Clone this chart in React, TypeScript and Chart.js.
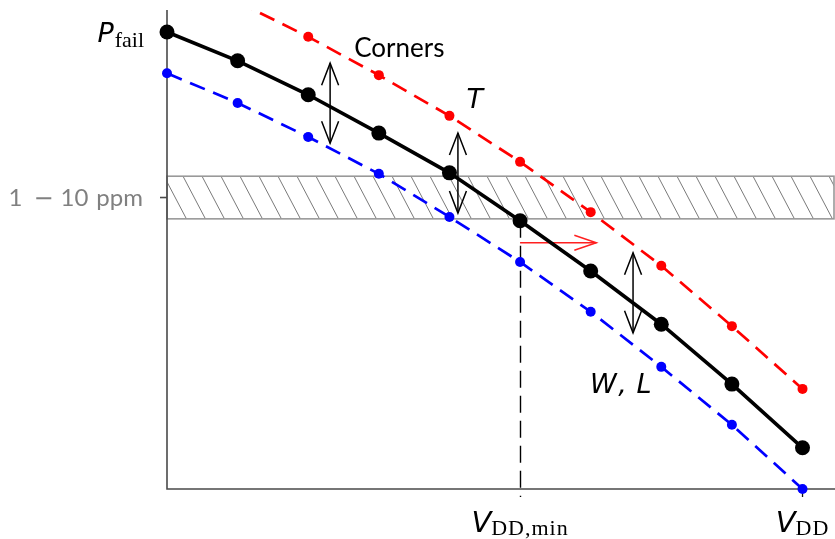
import React, { useEffect, useRef } from "react";
import { Chart, registerables } from "chart.js";

Chart.register(...registerables);

// ---- data ----
const xIndex = [0, 1, 2, 3, 4, 5, 6, 7, 8, 9];
const nominal = [9.54, 8.94, 8.23, 7.43, 6.6, 5.6, 4.55, 3.44, 2.19, 0.86];
const cornerHigh = [null, 10.17, 9.44, 8.64, 7.79, 6.83, 5.78, 4.66, 3.4, 2.09];
const cornerLow = [8.68, 8.06, 7.35, 6.58, 5.68, 4.74, 3.7, 2.55, 1.34, 0.0];
const cornerHighMarker = [0, 0, 5, 5, 5, 5, 5, 5, 5, 5];

const bandLow = 5.64;
const bandHigh = 6.53;
const yTickValue = 6.085;
const yTickParts = ["1", "−", "10", "ppm"];
const vddMinIndex = 5;
const vddIndex = 9;
const xMax = 9.46;
const yMax = 10;

// annotation arrows (data units)
const spreadArrows = [
  { x: 2.31, y1: 8.89, y2: 7.22 },
  { x: 4.12, y1: 7.43, y2: 5.76 },
  { x: 6.6, y1: 4.93, y2: 3.26 },
];
const shiftArrow = { x1: 5, x2: 6.08, y: 5.14 };
const notes = [
  { text: "Corners", x: 3.29, y: 9.02, font: '26px Lato', align: "center" },
  { text: "T", x: 4.24, y: 7.95, font: 'italic 27px "DejaVu Sans"', align: "left" },
  { text: "W", x: 5.99, y: 2.0, font: 'italic 27px "DejaVu Sans"', align: "left" },
  { text: ",", x: 6.39, y: 2.0, font: 'italic 27px "DejaVu Sans"', align: "left" },
  { text: "L", x: 6.65, y: 2.0, font: 'italic 27px "DejaVu Sans"', align: "left" },
];

function mkPts(vals: (number | null)[]) {
  return xIndex.map((x, i) => ({ x, y: vals[i] }));
}

function openHead(ctx: CanvasRenderingContext2D, tx: number, ty: number, ux: number, uy: number, len: number, half: number) {
  const bx = tx - ux * len;
  const by = ty - uy * len;
  const px = -uy, py = ux;
  ctx.beginPath();
  ctx.moveTo(bx + px * half, by + py * half);
  ctx.lineTo(tx, ty);
  ctx.lineTo(bx - px * half, by - py * half);
  ctx.stroke();
}

const overlay = {
  id: "overlay",
  beforeDatasetsDraw(chart: any) {
    const { ctx, chartArea: ca, scales } = chart;
    const xs = scales.x, ys = scales.y;
    ctx.save();
    // hatched band
    const yt = ys.getPixelForValue(bandHigh);
    const yb = ys.getPixelForValue(bandLow);
    const right = ca.right - 1;
    ctx.save();
    ctx.beginPath();
    ctx.rect(ca.left, yt, right - ca.left, yb - yt);
    ctx.clip();
    ctx.strokeStyle = "#7a7a7a";
    ctx.lineWidth = 1;
    const h = yb - yt;
    const dx = h / 1.9;
    for (let sx = ca.left + 16 - 19 * 3; sx < right + 5; sx += 19) {
      ctx.beginPath();
      ctx.moveTo(sx, yt);
      ctx.lineTo(sx + dx, yb);
      ctx.stroke();
    }
    ctx.restore();
    ctx.strokeStyle = "#999";
    ctx.lineWidth = 1.6;
    ctx.strokeRect(ca.left, yt, right - ca.left, yb - yt);

    // axes
    ctx.strokeStyle = "#4a4a4a";
    ctx.lineWidth = 1.6;
    ctx.beginPath();
    ctx.moveTo(ca.left, ca.top);
    ctx.lineTo(ca.left, ca.bottom);
    ctx.lineTo(ca.right, ca.bottom);
    ctx.stroke();
    // y tick
    const yTick = ys.getPixelForValue(yTickValue);
    ctx.beginPath();
    ctx.moveTo(ca.left - 7, yTick);
    ctx.lineTo(ca.left, yTick);
    ctx.stroke();
    // V_DD tick
    const xv = xs.getPixelForValue(xIndex[vddIndex]);
    ctx.lineWidth = 1.3;
    ctx.strokeStyle = "#111";
    ctx.beginPath();
    ctx.moveTo(xv, ca.bottom);
    ctx.lineTo(xv, ca.bottom + 8);
    ctx.stroke();
    // dashed VDD,min guide
    const xm = Math.round(xs.getPixelForValue(xIndex[vddMinIndex])) + 0.5;
    ctx.setLineDash([17, 8]);
    ctx.lineWidth = 1.4;
    ctx.strokeStyle = "#000";
    ctx.beginPath();
    ctx.moveTo(xm, ys.getPixelForValue(nominal[vddMinIndex]));
    ctx.lineTo(xm, ca.bottom + 8);
    ctx.stroke();
    ctx.setLineDash([]);

    // red shift arrow
    const ax1 = xs.getPixelForValue(shiftArrow.x1);
    const ax2 = xs.getPixelForValue(shiftArrow.x2);
    const ay = ys.getPixelForValue(shiftArrow.y);
    ctx.strokeStyle = "#ff2020";
    ctx.lineWidth = 1.5;
    ctx.beginPath();
    ctx.moveTo(ax1, ay);
    ctx.lineTo(ax2, ay);
    ctx.stroke();
    openHead(ctx, ax2, ay, 1, 0, 22, 7.5);
    ctx.restore();
  },
  afterDatasetsDraw(chart: any) {
    const { ctx, chartArea: ca, scales } = chart;
    const xs = scales.x, ys = scales.y;
    ctx.save();
    // double arrows
    ctx.strokeStyle = "#000";
    ctx.lineWidth = 1.5;
    for (const a of spreadArrows) {
      const x = xs.getPixelForValue(a.x);
      const y1 = ys.getPixelForValue(a.y1);
      const y2 = ys.getPixelForValue(a.y2);
      ctx.beginPath();
      ctx.moveTo(x, y1);
      ctx.lineTo(x, y2);
      ctx.stroke();
      openHead(ctx, x, y1, 0, -1, 22, 8.5);
      openHead(ctx, x, y2, 0, 1, 22, 8.5);
    }
    // notes
    ctx.fillStyle = "#000";
    ctx.textBaseline = "alphabetic";
    for (const n of notes) {
      ctx.font = n.font;
      ctx.textAlign = n.align;
      ctx.fillText(n.text, xs.getPixelForValue(n.x), ys.getPixelForValue(n.y));
    }

    // y tick label (math-spaced pieces, right aligned)
    ctx.fillStyle = "#808080";
    ctx.textAlign = "right";
    const yTick = ys.getPixelForValue(yTickValue);
    const base = yTick + 8;
    const fonts = ["24px Lato", '24px "DejaVu Sans"', "24px Lato", "24px Lato"];
    const gaps = [11, 7, 8];
    let xr = ca.left - 24;
    for (let i = yTickParts.length - 1; i >= 0; i--) {
      ctx.font = fonts[i];
      ctx.fillText(yTickParts[i], xr, base);
      xr -= ctx.measureText(yTickParts[i]).width;
      if (i > 0) xr -= gaps[i - 1];
    }

    // P_fail label
    ctx.fillStyle = "#000";
    const yP = ys.getPixelForValue(nominal[0]);
    ctx.font = '22px "Liberation Serif"';
    ctx.textAlign = "left";
    const subW = ctx.measureText("fail").width;
    const subX = ca.left - 23 - subW;
    ctx.fillText("fail", subX, yP + 15);
    ctx.font = 'italic 27px "DejaVu Sans"';
    ctx.textAlign = "right";
    ctx.fillText("P", subX - 1, yP + 10);

    // x labels
    const drawV = (x: number, sub: string) => {
      ctx.font = 'italic 29px "DejaVu Sans"';
      const vw = ctx.measureText("V").width;
      ctx.font = '22px "Liberation Serif"';
      (ctx as any).letterSpacing = "1px";
      const sw = ctx.measureText(sub).width;
      const total = vw + sw;
      const left = x - total / 2;
      ctx.textAlign = "left";
      ctx.fillText(sub, left + vw, ca.bottom + 46);
      (ctx as any).letterSpacing = "0px";
      ctx.font = 'italic 29px "DejaVu Sans"';
      ctx.fillText("V", left, ca.bottom + 43);
    };
    drawV(xs.getPixelForValue(xIndex[vddMinIndex]), "DD,min");
    drawV(xs.getPixelForValue(xIndex[vddIndex]), "DD");
    ctx.restore();
  },
};

export default function App() {
  const ref = useRef<HTMLCanvasElement | null>(null);
  useEffect(() => {
    document.body.style.margin = "0";
    const chart = new Chart(ref.current as HTMLCanvasElement, {
      type: "line",
      data: {
        datasets: [
          {
            label: "corner high",
            data: mkPts(cornerHigh),
            borderColor: "#ff0000",
            backgroundColor: "#ff0000",
            borderWidth: 2.7,
            borderDash: [16, 9],
            pointRadius: cornerHighMarker,
            pointBorderWidth: 0,
            pointBackgroundColor: "#ff0000",
            clip: { left: 0, top: 0, right: 0, bottom: 0 },
            tension: 0,
          },
          {
            label: "corner low",
            data: mkPts(cornerLow),
            borderColor: "#0000ff",
            backgroundColor: "#0000ff",
            borderWidth: 2.7,
            borderDash: [16, 9],
            pointRadius: 5,
            pointBorderWidth: 0,
            pointBackgroundColor: "#0000ff",
            clip: false,
            tension: 0,
          },
          {
            label: "nominal",
            data: mkPts(nominal),
            borderColor: "#000",
            backgroundColor: "#000",
            borderWidth: 3.6,
            pointRadius: 7.5,
            pointBorderWidth: 0,
            pointBackgroundColor: "#000",
            clip: false,
            tension: 0,
          },
        ],
      } as any,
      options: {
        animation: false,
        responsive: false,
        events: [],
        layout: { autoPadding: false, padding: { left: 167, right: 0, top: 10, bottom: 50 } },
        plugins: { legend: { display: false }, tooltip: { enabled: false } },
        scales: {
          x: { type: "linear", min: 0, max: xMax, display: false },
          y: { type: "linear", min: 0, max: yMax, display: false },
        },
      } as any,
      plugins: [overlay as any],
    });
    return () => chart.destroy();
  }, []);
  return (
    <div style={{ position: "fixed", left: 0, top: 0, width: 835, height: 539 }}>
      <canvas ref={ref} width={835} height={539} style={{ display: "block", width: 835, height: 539 }} />
    </div>
  );
}
